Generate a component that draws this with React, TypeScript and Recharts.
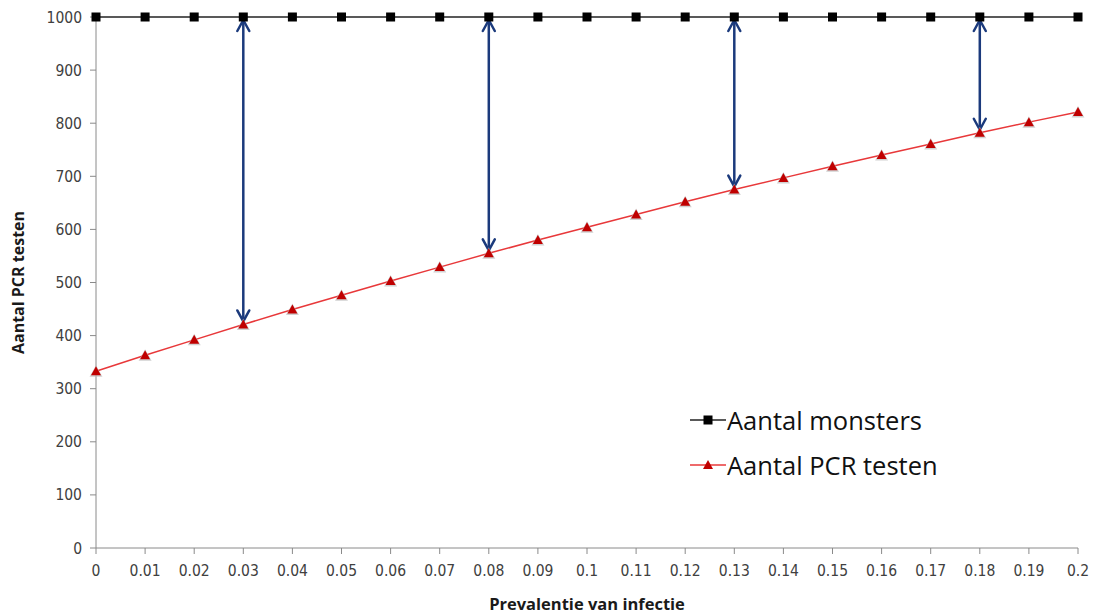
import React from 'react';
import { LineChart, Line, XAxis, YAxis, ReferenceLine } from 'recharts';

const prevalence = [0, 0.01, 0.02, 0.03, 0.04, 0.05, 0.06, 0.07, 0.08, 0.09, 0.1, 0.11, 0.12, 0.13, 0.14, 0.15, 0.16, 0.17, 0.18, 0.19, 0.2];
const monsters = [1000, 1000, 1000, 1000, 1000, 1000, 1000, 1000, 1000, 1000, 1000, 1000, 1000, 1000, 1000, 1000, 1000, 1000, 1000, 1000, 1000];
const pcrTests = [333, 363, 392, 421, 449, 476, 503, 529, 555, 580, 604, 628, 652, 675, 697, 719, 740, 761, 782, 802, 821];
const yTicks = [0, 100, 200, 300, 400, 500, 600, 700, 800, 900, 1000];
const arrowAt = [0.03, 0.08, 0.13, 0.18];

const data = prevalence.map((p, i) => ({ p, monsters: monsters[i], pcr: pcrTests[i] }));

const NAVY = '#1B3A7C';
const AXIS = '#8a8a8a';
const TICK = '#404040';
const TICK_FONT = 'DejaVu Sans Condensed, DejaVu Sans';

const XTick = (props: any) => {
  const { x, y, payload } = props;
  return (
    <text x={x} y={y + 20} textAnchor="middle" fill={TICK} fontSize={15.5} fontFamily={TICK_FONT}>
      {String(payload.value)}
    </text>
  );
};

const YTick = (props: any) => {
  const { x, y, payload } = props;
  return (
    <text x={x - 6} y={y + 5.5} textAnchor="end" fill={TICK} fontSize={15.5} fontFamily={TICK_FONT}>
      {String(payload.value)}
    </text>
  );
};

const SquareDot = (props: any) => {
  const { cx, cy } = props;
  if (cx == null || cy == null) return null;
  return <rect x={cx - 4.5} y={cy - 4.5} width={9} height={9} fill="#000" />;
};

const TriangleDot = (props: any) => {
  const { cx, cy } = props;
  if (cx == null || cy == null) return null;
  return (
    <g>
      <polygon points={`${cx},${cy - 6} ${cx - 6.5},${cy + 5.5} ${cx + 6.5},${cy + 5.5}`} fill="#bdbdbd" opacity={0.7} />
      <polygon points={`${cx},${cy - 5} ${cx - 5},${cy + 4} ${cx + 5},${cy + 4}`} fill="#C00000" />
    </g>
  );
};

const DoubleArrow = (props: any) => {
  const { x1, y1, x2, y2 } = props;
  if (x1 == null) return null;
  const top = Math.min(y1, y2) + 3;
  const bottom = Math.max(y1, y2) - 3;
  const x = x1;
  return (
    <g stroke={NAVY} strokeWidth={2.5} fill="none" strokeLinecap="round" strokeLinejoin="round">
      <line x1={x} y1={top} x2={x2} y2={bottom} />
      <polyline points={`${x - 6},${top + 11} ${x},${top} ${x + 6},${top + 11}`} />
      <polyline points={`${x - 6},${bottom - 11} ${x},${bottom} ${x + 6},${bottom - 11}`} />
    </g>
  );
};

const LegendRow = ({ color, dot, label }: { color: string; dot: React.ReactNode; label: string }) => (
  <div style={{ display: 'flex', alignItems: 'center', height: 45 }}>
    <svg width={36} height={20} style={{ marginRight: 1 }}>
      <line x1={0} y1={10} x2={36} y2={10} stroke={color} strokeWidth={1.5} />
      {dot}
    </svg>
    <span>{label}</span>
  </div>
);

export default function App() {
  return (
    <div style={{ position: 'absolute', left: 0, top: 0, width: 1100, height: 614, background: '#fff' }}>
      <LineChart width={1100} height={614} data={data} margin={{ top: 17, right: 22, bottom: 0, left: 0 }}>
        <XAxis
          dataKey="p"
          type="number"
          domain={[0, 0.2]}
          ticks={prevalence}
          interval={0}
          height={66}
          stroke={AXIS}
          tickSize={6}
          tick={<XTick />}
          label={{ value: 'Prevalentie van infectie', position: 'insideBottom', offset: 4, fill: '#1a1a1a', fontSize: 16.5, fontWeight: 700, fontFamily: 'Open Sans' }}
        />
        <YAxis
          type="number"
          domain={[0, 1000]}
          ticks={yTicks}
          width={96}
          stroke={AXIS}
          tickSize={6}
          tick={<YTick />}
          label={{ value: 'Aantal PCR testen', angle: -90, position: 'insideLeft', offset: 18, fill: '#1a1a1a', fontSize: 16, fontWeight: 700, fontFamily: 'Open Sans', style: { textAnchor: 'middle' } }}
        />
        <Line
          dataKey="monsters"
          stroke="#222"
          strokeWidth={1.5}
          dot={<SquareDot />}
          activeDot={false}
          isAnimationActive={false}
        />
        <Line
          dataKey="pcr"
          stroke="#E8383A"
          strokeWidth={1.5}
          dot={<TriangleDot />}
          activeDot={false}
          isAnimationActive={false}
        />
        {arrowAt.map((a) => (
          <ReferenceLine
            key={a}
            segment={[
              { x: a, y: 1000 },
              { x: a, y: pcrTests[prevalence.indexOf(a)] },
            ]}
            shape={<DoubleArrow />}
          />
        ))}
      </LineChart>
      <div
        style={{
          position: 'absolute',
          left: 690,
          top: 397,
          fontFamily: 'Open Sans',
          fontSize: 25.5,
          color: '#111',
        }}
      >
        <LegendRow
          color="#222"
          label="Aantal monsters"
          dot={<rect x={13.5} y={5.5} width={9} height={9} fill="#000" />}
        />
        <LegendRow
          color="#E8383A"
          label="Aantal PCR testen"
          dot={<polygon points="18,5 13,14 23,14" fill="#C00000" />}
        />
      </div>
    </div>
  );
}
